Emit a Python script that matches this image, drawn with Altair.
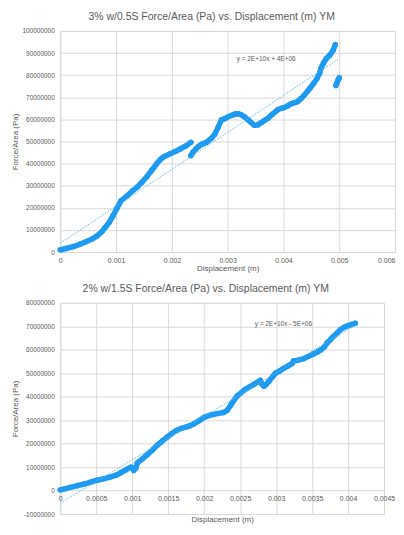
import altair as alt
import pandas as pd

# ---------- Chart 1: 3% w/0.5S ----------
c1_seg_a_x = [0, 0.0001, 0.00024, 0.00036, 0.00045, 0.00058, 0.00066, 0.00075, 0.0008, 0.00088,
              0.00095, 0.00102, 0.00109, 0.0012, 0.0013, 0.00138, 0.00146, 0.00155, 0.00164,
              0.00173, 0.0018, 0.00185, 0.0019, 0.00197, 0.00206, 0.00215, 0.00225, 0.00234]
c1_seg_a_y = [1.0e6, 1.6e6, 2.5e6, 3.6e6, 4.6e6, 6.0e6, 7.3e6, 9.3e6, 11.0e6, 13.5e6,
              16.7e6, 20.0e6, 23.2e6, 25.5e6, 27.8e6, 29.4e6, 31.5e6, 34.0e6, 37.0e6,
              40.0e6, 42.0e6, 43.0e6, 43.6e6, 44.5e6, 45.5e6, 46.6e6, 48.0e6, 49.6e6]
c1_seg_b_x = [0.00234, 0.00238, 0.00243, 0.00248, 0.00254, 0.00262, 0.00271, 0.00277, 0.00283,
              0.00289, 0.00295, 0.00301, 0.00307, 0.00313, 0.00319, 0.00325, 0.00331, 0.00337,
              0.00342, 0.00348, 0.00354, 0.0036, 0.00366, 0.00372, 0.0038, 0.00389, 0.00396,
              0.00401, 0.00407, 0.00413, 0.00419, 0.00425, 0.00431, 0.00437, 0.00443, 0.00448,
              0.00454, 0.0046, 0.00465, 0.00468, 0.00472, 0.00477, 0.00483, 0.00489, 0.00493]
c1_seg_b_y = [43.6e6, 45.2e6, 46.6e6, 47.8e6, 48.8e6, 49.6e6, 51.5e6, 53.3e6, 56.5e6,
              59.8e6, 60.3e6, 61.2e6, 61.8e6, 62.4e6, 62.5e6, 62.0e6, 61.0e6, 59.7e6,
              58.6e6, 57.3e6, 57.5e6, 58.5e6, 59.5e6, 60.4e6, 62.3e6, 64.2e6, 65.0e6,
              65.3e6, 66.0e6, 67.0e6, 67.5e6, 68.0e6, 69.3e6, 70.9e6, 72.6e6, 74.3e6,
              76.2e6, 78.4e6, 81.0e6, 83.6e6, 85.5e6, 87.5e6, 89.0e6, 91.2e6, 93.8e6]
c1_seg_c_x = [0.00494, 0.00496, 0.00498, 0.005]
c1_seg_c_y = [75.3e6, 76.5e6, 77.8e6, 78.8e6]
c1_trend_x = [0, 0.005]
c1_trend_y = [4.0e6, 87.5e6]
c1_x_ticks = [0, 0.001, 0.002, 0.003, 0.004, 0.005, 0.006]
c1_y_ticks = [0, 10000000, 20000000, 30000000, 40000000, 50000000, 60000000, 70000000,
              80000000, 90000000, 100000000]
c1_title = "3% w/0.5S Force/Area (Pa) vs. Displacement (m) YM"
c1_eq = "y = 2E+10x + 4E+06"
c1_eq_pos = (0.00369, 87.4e6)

# ---------- Chart 2: 2% w/1.5S ----------
c2_x = [0, 0.00007, 0.000144, 0.00024, 0.00033, 0.00042, 0.00051, 0.0006, 0.0007, 0.00078,
        0.00084, 0.00091, 0.00098, 0.001, 0.00102, 0.00105, 0.00107, 0.00114, 0.00121, 0.00128,
        0.00135, 0.00142, 0.00149, 0.00155, 0.00162, 0.00168, 0.00174, 0.0018, 0.00186, 0.00193,
        0.002, 0.00205, 0.00209, 0.00218, 0.00227, 0.00232, 0.00237, 0.00246, 0.00257, 0.00263,
        0.00269, 0.00274, 0.00278, 0.0028, 0.00283, 0.00286, 0.0029, 0.00295, 0.00299, 0.00305,
        0.0031, 0.00316, 0.00322, 0.00324, 0.0033, 0.00338, 0.00345, 0.00352, 0.00357, 0.00362,
        0.00367, 0.00371, 0.00376, 0.0038, 0.00385, 0.00389, 0.00394, 0.00399, 0.00405, 0.0041]
c2_y = [0.3e6, 0.8e6, 1.4e6, 2.1e6, 2.8e6, 3.6e6, 4.4e6, 5.0e6, 5.8e6, 6.6e6,
        7.6e6, 8.8e6, 10.0e6, 9.8e6, 8.6e6, 9.5e6, 11.8e6, 13.5e6, 15.3e6, 17.3e6,
        19.4e6, 21.2e6, 22.9e6, 24.3e6, 25.7e6, 26.5e6, 27.0e6, 27.6e6, 28.5e6, 29.8e6,
        31.2e6, 31.8e6, 32.2e6, 32.8e6, 33.3e6, 34.2e6, 36.5e6, 40.4e6, 43.1e6, 44.2e6,
        45.2e6, 46.2e6, 47.0e6, 45.5e6, 44.5e6, 45.2e6, 46.6e6, 48.5e6, 50.0e6, 51.0e6,
        52.0e6, 53.0e6, 54.1e6, 55.2e6, 55.5e6, 56.2e6, 57.2e6, 58.2e6, 59.0e6, 59.9e6,
        61.2e6, 63.0e6, 64.5e6, 65.8e6, 67.2e6, 68.5e6, 69.5e6, 70.2e6, 70.8e6, 71.3e6]
c2_trend_x = [0, 0.0041]
c2_trend_y = [-5.3e6, 70.5e6]
c2_x_ticks = [0, 0.0005, 0.001, 0.0015, 0.002, 0.0025, 0.003, 0.0035, 0.004, 0.0045]
c2_y_ticks = [-10000000, 0, 10000000, 20000000, 30000000, 40000000, 50000000, 60000000,
              70000000, 80000000]
c2_title = "2% w/1.5S Force/Area (Pa) vs. Displacement (m) YM"
c2_eq = "y = 2E+10x - 5E+06"
c2_eq_pos = (0.0031, 71.0e6)

FONT = "Liberation Sans"
TXT = "#595959"
GRID = "#d9d9d9"
BLUE = "#1e9bf0"
TREND = "#5cb8f2"


def build(series, trend_x, trend_y, x_ticks, y_ticks, title, eq, eq_pos,
          width, height, x_offset, x_title_y, title_cx, flush_last):
    rows = []
    for seg, (xs, ys) in enumerate(series):
        for a, b in zip(xs, ys):
            rows.append({"d": a, "v": b, "seg": seg})
    df = pd.DataFrame(rows)
    tdf = pd.DataFrame({"d": trend_x, "v": trend_y})
    edf = pd.DataFrame({"d": [eq_pos[0]], "v": [eq_pos[1]], "t": [eq]})
    hdf = pd.DataFrame({"t": [title]})

    xs = alt.Scale(domain=[x_ticks[0], x_ticks[-1]], nice=False, zero=False)
    ys = alt.Scale(domain=[y_ticks[0], y_ticks[-1]], nice=False, zero=False)
    extra = {}
    if flush_last:
        last = x_ticks[-1] * 0.999
        extra["labelAlign"] = alt.condition(f"datum.value >= {last}",
                                            alt.value("right"), alt.value("center"))
    if x_title_y is not None:
        extra["titleY"] = x_title_y
        extra["titleBaseline"] = "top"
    xaxis = alt.Axis(values=x_ticks, format="~g", title="Displacement (m)",
                     grid=True, gridColor=GRID, domain=False, ticks=False,
                     labelFont=FONT, labelFontSize=7, labelColor=TXT, labelPadding=4,
                     titleFont=FONT, titleFontSize=8, titleColor=TXT, titleFontWeight="normal",
                     titlePadding=2, offset=x_offset, labelFlush=False, labelOverlap=False,
                     **extra)
    yaxis = alt.Axis(values=y_ticks, labelExpr="'' + datum.value", title="Force/Area (Pa)",
                     grid=True, gridColor=GRID, domain=False, ticks=False,
                     labelFont=FONT, labelFontSize=6.5, labelColor=TXT, labelPadding=6,
                     titleFont=FONT, titleFontSize=8, titleColor=TXT, titleFontWeight="normal",
                     titlePadding=2, labelFlush=False, labelOverlap=False,
                     minExtent=38.5, maxExtent=38.5)
    X = alt.X("d:Q", scale=xs, axis=xaxis)
    Y = alt.Y("v:Q", scale=ys, axis=yaxis)

    base = alt.Chart(df)
    line = base.mark_line(color=BLUE, strokeWidth=5.5, strokeCap="round",
                          strokeJoin="round").encode(x=X, y=Y, detail="seg:N", order="d:Q")
    pts = base.mark_circle(color=BLUE, size=30, opacity=1).encode(x=X, y=Y)
    trend = alt.Chart(tdf).mark_line(color=TREND, strokeWidth=1,
                                     strokeDash=[1.5, 1.5]).encode(x=X, y=Y)
    eqt = alt.Chart(edf).mark_text(font=FONT, fontSize=6.5, color=TXT).encode(
        x=X, y=Y, text="t:N")
    head = alt.Chart(hdf).mark_text(font=FONT, fontSize=10.5, color=TXT,
                                    baseline="middle", align="center").encode(
        x=alt.value(title_cx), y=alt.value(-14), text="t:N")
    return alt.layer(line, pts, trend, eqt, head).properties(width=width, height=height)


h1, h2 = 222, 212
c1 = build([(c1_seg_a_x, c1_seg_a_y), (c1_seg_b_x, c1_seg_b_y), (c1_seg_c_x, c1_seg_c_y)],
           c1_trend_x, c1_trend_y, c1_x_ticks, c1_y_ticks, c1_title, c1_eq, c1_eq_pos,
           336, h1, 0, None, 152, True)
c2 = build([(c2_x, c2_y)], c2_trend_x, c2_trend_y, c2_x_ticks, c2_y_ticks, c2_title,
           c2_eq, c2_eq_pos, 325, h2, -h2 / 9, 25, 146, False)

chart = alt.vconcat(c1, c2, spacing=51, bounds="flush").properties(
    padding={"left": 3.5, "top": 2, "right": 0, "bottom": 0}
).configure_view(stroke=None).configure(background="white")

chart.save("out.html", embed_options={"renderer": "svg", "actions": False})
